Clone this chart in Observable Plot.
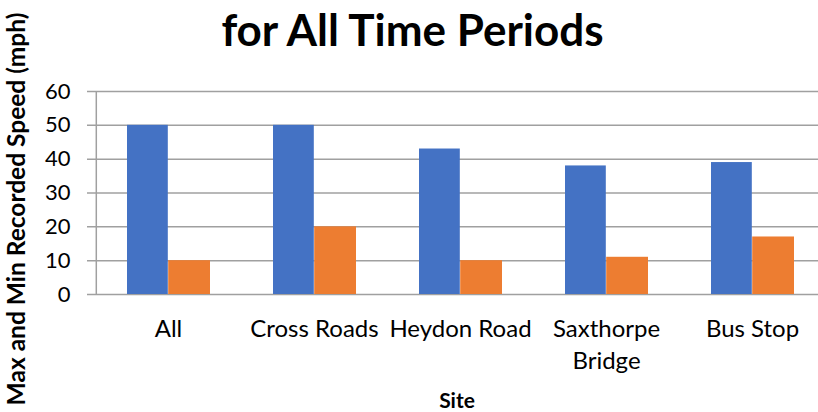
<!DOCTYPE html>
<html>
<head>
<meta charset="utf-8">
<script src="https://cdn.jsdelivr.net/npm/d3@7"></script>
<script src="https://cdn.jsdelivr.net/npm/@observablehq/plot@0.6"></script>
<style>
  html, body { margin: 0; padding: 0; background: #fff; }
  #chart svg { display: block; }
</style>
</head>
<body>
<div id="chart"></div>
<script>
const sites = ["All", "Cross Roads", "Heydon Road", "Saxthorpe Bridge", "Bus Stop"];
const maxSpeed = [50, 50, 43, 38, 39];
const minSpeed = [10, 20, 10, 11, 17];
const yTicks = [0, 10, 20, 30, 40, 50, 60];
const titleText = "for All Time Periods";
const yLabel = "Max and Min Recorded Speed (mph)";
const xLabel = "Site";

const maxData = sites.map((s, i) => ({site: s, value: maxSpeed[i]}));
const minData = sites.map((s, i) => ({site: s, value: minSpeed[i]}));

const font = "Lato, 'Open Sans', sans-serif";

const chart = Plot.plot({
  width: 818,
  height: 412,
  marginTop: 91,
  marginBottom: 118,
  marginLeft: 95,
  marginRight: 0,
  style: {fontFamily: font, color: "#000", background: "#fff", overflow: "hidden"},
  x: {domain: sites, range: [94, 826], padding: 0},
  y: {domain: [0, 60]},
  marks: [
    Plot.ruleY(yTicks, {y: d => d, stroke: "#a0a0a0", strokeWidth: 1.5, insetLeft: -8}),
    Plot.ruleX([sites[0]], {x: d => d, y1: 0, y2: 60, dx: -72.2, stroke: "#a0a0a0", strokeWidth: 1.5}),
    Plot.barY(maxData, {x: "site", y: "value", fill: "#4472C4", insetLeft: 32, insetRight: 73.2}),
    Plot.barY(minData, {x: "site", y: "value", fill: "#ED7D31", insetLeft: 73.2, insetRight: 31}),
    Plot.axisY(yTicks, {tickSize: 0, tickPadding: 25, fontSize: 22, label: null}),
    Plot.axisX({tickSize: 0, tickPadding: 20, fontSize: 24, lineHeight: 1.33, label: null,
      tickFormat: d => d === "Saxthorpe Bridge" ? "Saxthorpe\nBridge" : d}),
    Plot.text([titleText], {frameAnchor: "top", lineAnchor: "middle", dx: -44.5, dy: -60, fontSize: 44, fontWeight: "bold"}),
    Plot.text([xLabel], {frameAnchor: "bottom", lineAnchor: "middle", dy: 107, fontSize: 21, fontWeight: "bold"}),
    Plot.text([yLabel], {frameAnchor: "left", textAnchor: "middle", lineAnchor: "middle", rotate: -90, dx: -78, dy: 16, fontSize: 24.5, fontWeight: "bold"})
  ]
});
document.getElementById("chart").appendChild(chart);
</script>
</body>
</html>
